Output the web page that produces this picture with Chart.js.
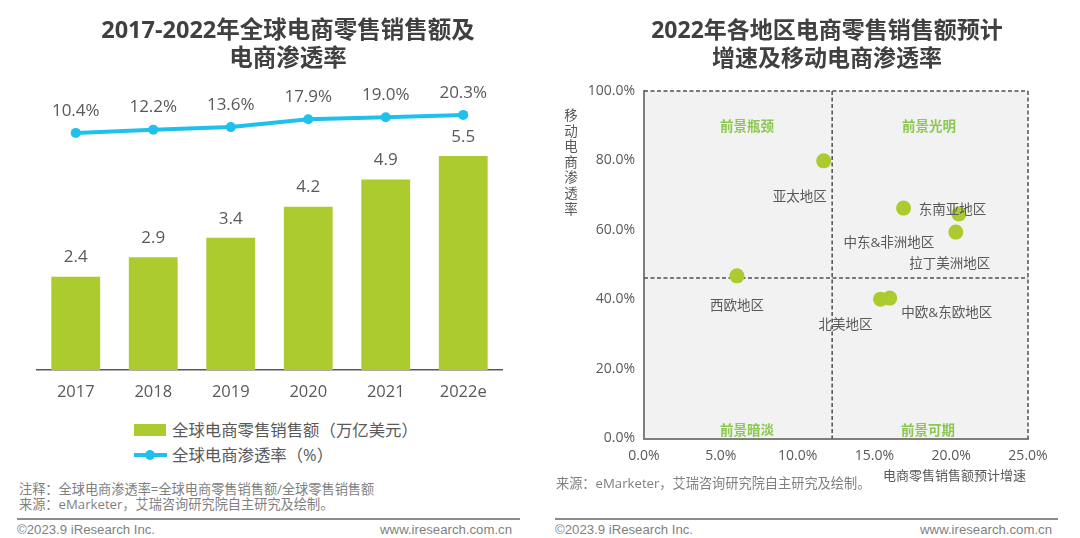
<!DOCTYPE html>
<html lang="zh-CN">
<head>
<meta charset="utf-8">
<script src="https://cdn.jsdelivr.net/npm/chart.js@4/dist/chart.umd.min.js"></script>
<style>
  html, body { margin: 0; padding: 0; background: #fff; }
  body { position: relative; width: 1080px; height: 538px; overflow: hidden;
         font-family: "Open Sans", "Noto Sans CJK SC", sans-serif; color: #595959; }
  canvas { position: absolute; top: 0; }
  .txt { position: absolute; white-space: nowrap; line-height: 1; }
  .title { font-weight: 700; color: #404040; text-align: center; line-height: 28px; width: 540px; }
  .note { font-size: 13.2px; color: #7f7f7f; line-height: 15px; }
  .foot { font-family: "Liberation Sans", sans-serif; font-size: 13.2px; color: #7f7f7f; }
  .rule { position: absolute; top: 518px; height: 1.5px; background: #8c8c8c; }
  .leg { font-size: 16.4px; color: #595959; }
  .swatch { position: absolute; background: #abcb2f; }
  .legline { position: absolute; background: #20c0ec; }
  .legdot { position: absolute; background: #20c0ec; border-radius: 50%; }
</style>
</head>
<body>
<canvas id="salesChart" width="540" height="410" style="left:0"></canvas>
<canvas id="regionChart" width="540" height="480" style="left:540px"></canvas>

<div class="txt title" style="left:18px;top:15px;font-size:23.5px">2017-2022年全球电商零售销售额及<br>电商渗透率</div>
<div class="txt title" style="left:557px;top:15px;font-size:23px">2022年各地区电商零售销售额预计<br>增速及移动电商渗透率</div>

<div class="swatch" style="left:134px;top:424px;width:32px;height:12px"></div>
<div class="txt leg" style="left:172px;top:422px">全球电商零售销售额（万亿美元）</div>
<div class="legline" style="left:134px;top:453px;width:33px;height:4px"></div>
<div class="legdot" style="left:145px;top:450px;width:10px;height:10px"></div>
<div class="txt leg" style="left:172px;top:447px">全球电商渗透率（%）</div>

<div class="txt note" style="left:19px;top:482px">注释：全球电商渗透率=全球电商零售销售额/全球零售销售额<br>来源：eMarketer，艾瑞咨询研究院自主研究及绘制。</div>
<div class="txt note" style="left:556px;top:476px">来源：eMarketer，艾瑞咨询研究院自主研究及绘制。</div>

<div class="txt" style="left:883px;top:469px;font-size:13px;color:#595959">电商零售销售额预计增速</div>
<div class="txt" style="left:563px;top:108px;font-size:13.5px;line-height:15.6px;color:#595959;white-space:normal;width:16px;text-align:center">移动电商渗透率</div>

<div class="rule" style="left:17px;width:503px"></div>
<div class="rule" style="left:555px;width:503px"></div>
<div class="txt foot" style="left:17px;top:523px">©2023.9 iResearch Inc.</div>
<div class="txt foot" style="right:568px;top:523px">www.iresearch.com.cn</div>
<div class="txt foot" style="left:555px;top:523px">©2023.9 iResearch Inc.</div>
<div class="txt foot" style="right:28px;top:523px">www.iresearch.com.cn</div>

<script>
const years = ["2017", "2018", "2019", "2020", "2021", "2022e"];
const salesValues = [2.4, 2.9, 3.4, 4.2, 4.9, 5.5];
const penetrationValues = [10.4, 12.2, 13.6, 17.9, 19.0, 20.3];

const regionNames = ["亚太地区", "东南亚地区", "中东&非洲地区", "拉丁美洲地区", "西欧地区", "北美地区", "中欧&东欧地区"];
const regionGrowth = [11.7, 16.9, 20.5, 20.3, 6.05, 15.4, 16.0];
const regionMobile = [79.9, 66.3, 64.6, 59.4, 46.8, 40.1, 40.4];
const growthMid = 12.25;
const mobileMid = 46.2;
const quadrantNames = ["前景瓶颈", "前景光明", "前景暗淡", "前景可期"];

const fontFamily = '"Open Sans", "Noto Sans CJK SC", sans-serif';
const textColor = "#595959";
const axisColor = "#7f7f7f";
const barColor = "#abcb2f";
const lineColor = "#20c0ec";

// value labels above the bars and the line points
const valueLabels = {
  id: "valueLabels",
  afterDatasetsDraw(chart) {
    const ctx = chart.ctx;
    ctx.save();
    ctx.font = "17px " + fontFamily;
    ctx.fillStyle = textColor;
    ctx.textAlign = "center";
    ctx.textBaseline = "middle";
    chart.getDatasetMeta(0).data.forEach((el, i) => {
      ctx.fillText(salesValues[i].toFixed(1), el.x, el.y - 19);
    });
    chart.getDatasetMeta(1).data.forEach((el, i) => {
      ctx.fillText(penetrationValues[i].toFixed(1) + "%", el.x, el.y - 22);
    });
    ctx.restore();
  }
};

new Chart(document.getElementById("salesChart"), {
  type: "bar",
  data: {
    labels: years,
    datasets: [
      { type: "bar", data: salesValues, yAxisID: "y", backgroundColor: barColor,
        barPercentage: 0.63, categoryPercentage: 1, order: 2 },
      { type: "line", data: penetrationValues, yAxisID: "y2", borderColor: lineColor, borderWidth: 4,
        backgroundColor: lineColor, pointRadius: 5, pointBackgroundColor: lineColor,
        pointBorderWidth: 0, tension: 0, order: 1 }
    ]
  },
  options: {
    responsive: false,
    animation: false,
    layout: { padding: { left: 37, right: 38, top: 60 } },
    plugins: { legend: { display: false }, tooltip: { enabled: false } },
    scales: {
      x: {
        grid: { display: false, drawTicks: false },
        border: { color: "#595959", width: 1.5 },
        ticks: { color: textColor, font: { size: 16.5, family: fontFamily }, padding: 12 },
        afterFit: s => { s.height = 40; }
      },
      y: { display: false, min: 0, max: 7.97 },
      y2: { display: false, min: -120, max: 50.5 }
    }
  },
  plugins: [valueLabels]
});

// quadrant background, dashed dividers and the text inside the plot
const quadrantPlot = {
  id: "quadrantPlot",
  beforeDraw(chart) {
    const { ctx, chartArea: a } = chart;
    ctx.save();
    ctx.fillStyle = "#f2f2f2";
    ctx.fillRect(a.left, a.top, a.right - a.left, a.bottom - a.top);
    ctx.restore();
  },
  beforeDatasetsDraw(chart) {
    const { ctx, chartArea: a, scales } = chart;
    const midX = scales.x.getPixelForValue(growthMid);
    const midY = scales.y.getPixelForValue(mobileMid);
    ctx.save();
    ctx.strokeStyle = "#505050";
    ctx.lineWidth = 1.5;
    ctx.setLineDash([4, 2.5]);
    [[a.left, a.top, a.right, a.top], [a.right, a.top, a.right, a.bottom],
     [midX, a.top, midX, a.bottom], [a.left, midY, a.right, midY]].forEach(l => {
      ctx.beginPath();
      ctx.moveTo(l[0], l[1]);
      ctx.lineTo(l[2], l[3]);
      ctx.stroke();
    });
    ctx.restore();
  },
  afterDatasetsDraw(chart) {
    const { ctx, chartArea: a, scales } = chart;
    const midX = scales.x.getPixelForValue(growthMid);
    const leftX = (a.left + midX) / 2 + 9;
    const rightX = (midX + a.right) / 2;
    const spots = [[leftX, a.top + 36], [rightX - 1, a.top + 36], [leftX, a.bottom - 7], [rightX - 2, a.bottom - 7]];
    ctx.save();
    ctx.textAlign = "center";
    ctx.textBaseline = "middle";
    ctx.font = "bold 13.5px " + fontFamily;
    ctx.fillStyle = "#8cc850";
    quadrantNames.forEach((name, i) => ctx.fillText(name, spots[i][0], spots[i][1]));

    // label offsets from each region's point
    const offsets = [[-24, 36], [49, 2], [-70, 29], [-6, 32], [0, 30], [-35, 26], [57, 15]];
    ctx.font = "13.5px " + fontFamily;
    ctx.fillStyle = textColor;
    chart.getDatasetMeta(0).data.forEach((el, i) => {
      ctx.fillText(regionNames[i], el.x + offsets[i][0], el.y + offsets[i][1]);
    });
    ctx.restore();
  }
};

new Chart(document.getElementById("regionChart"), {
  type: "scatter",
  data: {
    datasets: [{
      data: regionGrowth.map((g, i) => ({ x: g, y: regionMobile[i] })),
      backgroundColor: barColor,
      pointRadius: 7.5,
      pointBorderWidth: 0
    }]
  },
  options: {
    responsive: false,
    animation: false,
    layout: { padding: { right: 52, top: 91 } },
    plugins: { legend: { display: false }, tooltip: { enabled: false } },
    scales: {
      x: {
        min: 0, max: 25,
        grid: { display: false, drawTicks: false },
        border: { color: axisColor, width: 2 },
        ticks: { stepSize: 5, color: textColor, font: { size: 14, family: fontFamily }, padding: 9,
                 maxRotation: 0, callback: v => v.toFixed(1) + "%" },
        afterFit: s => { s.height = 41.5; }
      },
      y: {
        min: 0, max: 100,
        grid: { display: false, drawTicks: false },
        border: { color: axisColor, width: 2 },
        ticks: { stepSize: 20, color: textColor, font: { size: 14, family: fontFamily }, padding: 9,
                 callback: v => v.toFixed(1) + "%" },
        afterFit: s => { s.width = 104; }
      }
    }
  },
  plugins: [quadrantPlot]
});
</script>
</body>
</html>
